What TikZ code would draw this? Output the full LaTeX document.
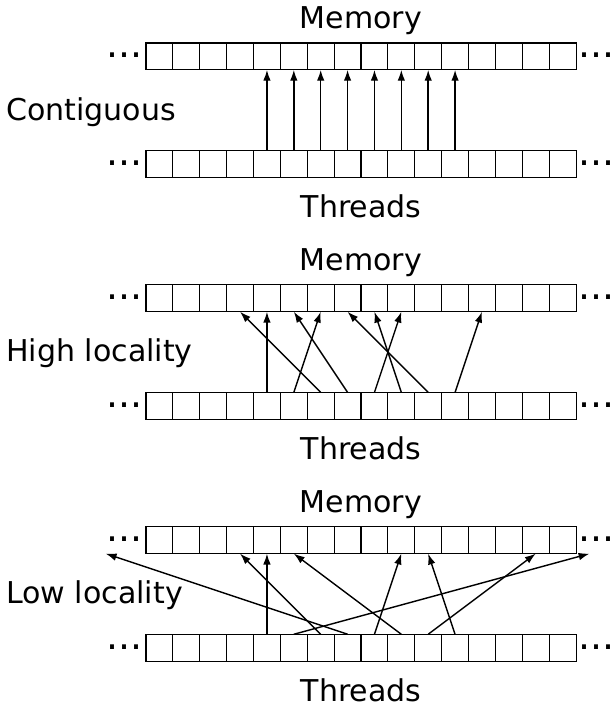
\documentclass[tikz,border=0pt]{standalone}
\usepackage{fontspec}
\setmainfont{DejaVu Sans}
\usetikzlibrary{arrows.meta}
\begin{document}
\begin{tikzpicture}[
    cell/.style={draw, line width=1.1pt, minimum size=1cm, inner sep=0pt, outer sep=0pt},
    txt/.style={font=\fontsize{31.8}{38}\selectfont, inner sep=0pt},
    dots/.style={font=\fontsize{40}{46}\selectfont, inner sep=0pt},
    ptr/.style={-{Latex[length=11.5pt,width=8pt]}, line width=1.5pt}
]
    \useasboundingbox (-5.433,0) rectangle (17.302,-26.195);
    \foreach \p/\name in {0/Contiguous,1/High locality,2/Low locality} {
        \pgfmathsetmacro{\y}{-9*\p}
        \foreach \i in {0,...,15} {
            \node[cell] (m\p-\i) at (\i+0.5, \y-2.1) {};
            \node[cell] (t\p-\i) at (\i+0.5, \y-6.1) {};
        }
        \node[txt, anchor=base] (mem\p) at (8, \y-1.07) {Memory};
        \node[txt, anchor=base] (thr\p) at (8, \y-8.09) {Threads};
        \node[txt, anchor=base west] (side\p) at (-5.21, \y-4.465) {\name};
        \node[dots, anchor=base east] (ldm\p) at (-0.13, \y-2.15) {...};
        \node[dots, anchor=base west] (rdm\p) at (16.1, \y-2.15) {...};
        \node[dots, anchor=base east] (ldt\p) at (-0.13, \y-6.15) {...};
        \node[dots, anchor=base west] (rdt\p) at (16.1, \y-6.15) {...};
    }
    \foreach \i in {4,...,11}
        \draw[ptr] (t0-\i.north) -- (m0-\i.south);
    \foreach \a/\b in {4/4,5/6,6/3,7/5,8/9,9/8,10/7,11/12}
        \draw[ptr] (t1-\a.north) -- (m1-\b.south);
    \coordinate (farleft) at (-1.5,-20.6);
    \coordinate (farright) at (16.5,-20.6);
    \foreach \a/\b in {4/m2-4.south,5/farright,6/m2-3.south,7/farleft,8/m2-9.south,9/m2-5.south,10/m2-14.south,11/m2-10.south}
        \draw[ptr] (t2-\a.north) -- (\b);
\end{tikzpicture}
\end{document}
